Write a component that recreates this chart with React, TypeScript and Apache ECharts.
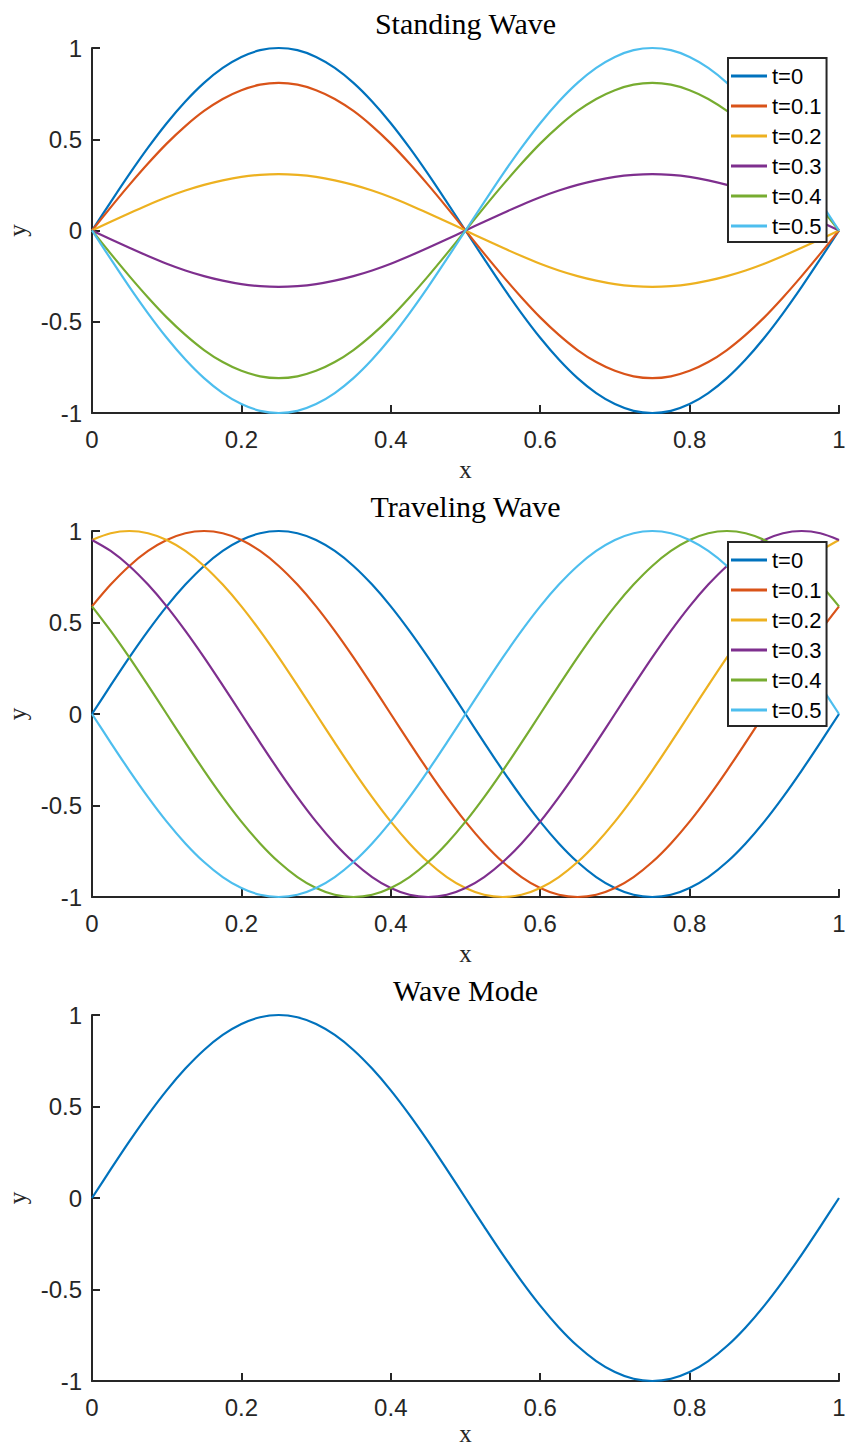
import React, { useEffect, useRef } from "react";
import * as echarts from "echarts";

const xs = [
  0, 0.025, 0.05, 0.075, 0.1, 0.125, 0.15, 0.175, 0.2, 0.225, 0.25, 0.275, 0.3, 0.325, 0.35, 0.375, 0.4, 0.425, 0.45, 0.475,
  0.5, 0.525, 0.55, 0.575, 0.6, 0.625, 0.65, 0.675, 0.7, 0.725, 0.75, 0.775, 0.8, 0.825, 0.85, 0.875, 0.9, 0.925, 0.95, 0.975, 1,
];
const seriesNames = ["t=0", "t=0.1", "t=0.2", "t=0.3", "t=0.4", "t=0.5"];
const colors = ["#0072BD", "#D95319", "#EDB120", "#7E2F8E", "#77AC30", "#4DBEEE"];
const titles = ["Standing Wave", "Traveling Wave", "Wave Mode"];
const xTicks = [0, 0.2, 0.4, 0.6, 0.8, 1];
const yTicks = [-1, -0.5, 0, 0.5, 1];

// Standing wave
const standT0 = [0, 0.156, 0.309, 0.454, 0.588, 0.707, 0.809, 0.891, 0.951, 0.988, 1, 0.988, 0.951, 0.891, 0.809, 0.707, 0.588, 0.454, 0.309, 0.156, 0, -0.156, -0.309, -0.454, -0.588, -0.707, -0.809, -0.891, -0.951, -0.988, -1, -0.988, -0.951, -0.891, -0.809, -0.707, -0.588, -0.454, -0.309, -0.156, 0];
const standT1 = [0, 0.127, 0.25, 0.367, 0.476, 0.572, 0.655, 0.721, 0.769, 0.799, 0.809, 0.799, 0.769, 0.721, 0.655, 0.572, 0.476, 0.367, 0.25, 0.127, 0, -0.127, -0.25, -0.367, -0.476, -0.572, -0.655, -0.721, -0.769, -0.799, -0.809, -0.799, -0.769, -0.721, -0.655, -0.572, -0.476, -0.367, -0.25, -0.127, 0];
const standT2 = [0, 0.048, 0.095, 0.14, 0.182, 0.219, 0.25, 0.275, 0.294, 0.305, 0.309, 0.305, 0.294, 0.275, 0.25, 0.219, 0.182, 0.14, 0.095, 0.048, 0, -0.048, -0.095, -0.14, -0.182, -0.219, -0.25, -0.275, -0.294, -0.305, -0.309, -0.305, -0.294, -0.275, -0.25, -0.219, -0.182, -0.14, -0.095, -0.048, 0];
const standT3 = [0, -0.048, -0.095, -0.14, -0.182, -0.219, -0.25, -0.275, -0.294, -0.305, -0.309, -0.305, -0.294, -0.275, -0.25, -0.219, -0.182, -0.14, -0.095, -0.048, 0, 0.048, 0.095, 0.14, 0.182, 0.219, 0.25, 0.275, 0.294, 0.305, 0.309, 0.305, 0.294, 0.275, 0.25, 0.219, 0.182, 0.14, 0.095, 0.048, 0];
const standT4 = [0, -0.127, -0.25, -0.367, -0.476, -0.572, -0.655, -0.721, -0.769, -0.799, -0.809, -0.799, -0.769, -0.721, -0.655, -0.572, -0.476, -0.367, -0.25, -0.127, 0, 0.127, 0.25, 0.367, 0.476, 0.572, 0.655, 0.721, 0.769, 0.799, 0.809, 0.799, 0.769, 0.721, 0.655, 0.572, 0.476, 0.367, 0.25, 0.127, 0];
const standT5 = [0, -0.156, -0.309, -0.454, -0.588, -0.707, -0.809, -0.891, -0.951, -0.988, -1, -0.988, -0.951, -0.891, -0.809, -0.707, -0.588, -0.454, -0.309, -0.156, 0, 0.156, 0.309, 0.454, 0.588, 0.707, 0.809, 0.891, 0.951, 0.988, 1, 0.988, 0.951, 0.891, 0.809, 0.707, 0.588, 0.454, 0.309, 0.156, 0];

// Traveling wave
const travT0 = [0, 0.156, 0.309, 0.454, 0.588, 0.707, 0.809, 0.891, 0.951, 0.988, 1, 0.988, 0.951, 0.891, 0.809, 0.707, 0.588, 0.454, 0.309, 0.156, 0, -0.156, -0.309, -0.454, -0.588, -0.707, -0.809, -0.891, -0.951, -0.988, -1, -0.988, -0.951, -0.891, -0.809, -0.707, -0.588, -0.454, -0.309, -0.156, 0];
const travT1 = [0.588, 0.707, 0.809, 0.891, 0.951, 0.988, 1, 0.988, 0.951, 0.891, 0.809, 0.707, 0.588, 0.454, 0.309, 0.156, 0, -0.156, -0.309, -0.454, -0.588, -0.707, -0.809, -0.891, -0.951, -0.988, -1, -0.988, -0.951, -0.891, -0.809, -0.707, -0.588, -0.454, -0.309, -0.156, 0, 0.156, 0.309, 0.454, 0.588];
const travT2 = [0.951, 0.988, 1, 0.988, 0.951, 0.891, 0.809, 0.707, 0.588, 0.454, 0.309, 0.156, 0, -0.156, -0.309, -0.454, -0.588, -0.707, -0.809, -0.891, -0.951, -0.988, -1, -0.988, -0.951, -0.891, -0.809, -0.707, -0.588, -0.454, -0.309, -0.156, 0, 0.156, 0.309, 0.454, 0.588, 0.707, 0.809, 0.891, 0.951];
const travT3 = [0.951, 0.891, 0.809, 0.707, 0.588, 0.454, 0.309, 0.156, 0, -0.156, -0.309, -0.454, -0.588, -0.707, -0.809, -0.891, -0.951, -0.988, -1, -0.988, -0.951, -0.891, -0.809, -0.707, -0.588, -0.454, -0.309, -0.156, 0, 0.156, 0.309, 0.454, 0.588, 0.707, 0.809, 0.891, 0.951, 0.988, 1, 0.988, 0.951];
const travT4 = [0.588, 0.454, 0.309, 0.156, 0, -0.156, -0.309, -0.454, -0.588, -0.707, -0.809, -0.891, -0.951, -0.988, -1, -0.988, -0.951, -0.891, -0.809, -0.707, -0.588, -0.454, -0.309, -0.156, 0, 0.156, 0.309, 0.454, 0.588, 0.707, 0.809, 0.891, 0.951, 0.988, 1, 0.988, 0.951, 0.891, 0.809, 0.707, 0.588];
const travT5 = [0, -0.156, -0.309, -0.454, -0.588, -0.707, -0.809, -0.891, -0.951, -0.988, -1, -0.988, -0.951, -0.891, -0.809, -0.707, -0.588, -0.454, -0.309, -0.156, 0, 0.156, 0.309, 0.454, 0.588, 0.707, 0.809, 0.891, 0.951, 0.988, 1, 0.988, 0.951, 0.891, 0.809, 0.707, 0.588, 0.454, 0.309, 0.156, 0];

// Wave mode
const modeValues = [0, 0.156, 0.309, 0.454, 0.588, 0.707, 0.809, 0.891, 0.951, 0.988, 1, 0.988, 0.951, 0.891, 0.809, 0.707, 0.588, 0.454, 0.309, 0.156, 0, -0.156, -0.309, -0.454, -0.588, -0.707, -0.809, -0.891, -0.951, -0.988, -1, -0.988, -0.951, -0.891, -0.809, -0.707, -0.588, -0.454, -0.309, -0.156, 0];

const standing = [standT0, standT1, standT2, standT3, standT4, standT5];
const traveling = [travT0, travT1, travT2, travT3, travT4, travT5];

const AXIS = "#262626";
const SANS = "Liberation Sans, Arial, sans-serif";
const SERIF = "Liberation Serif, Times New Roman, serif";

const GRIDS = [
  { top: 48, height: 365, xNameGap: 46 },
  { top: 531, height: 366, xNameGap: 46 },
  { top: 1015, height: 366, xNameGap: 42 },
];
const LEFT = 92;
const WIDTH = 747;

export default function App() {
  const ref = useRef<HTMLDivElement>(null);
  useEffect(() => {
    if (!ref.current) return;
    const chart = echarts.init(ref.current, null, { renderer: "svg" });

    const grid = GRIDS.map((g) => ({
      left: LEFT,
      top: g.top,
      width: WIDTH,
      height: g.height,
      containLabel: false,
      outerBoundsMode: "none",
    }));

    const xAxis = GRIDS.map((g, i) => ({
      type: "value",
      gridIndex: i,
      min: xTicks[0],
      max: xTicks[xTicks.length - 1],
      interval: 0.2,
      name: "x",
      nameLocation: "middle",
      nameGap: g.xNameGap,
      nameTextStyle: { fontFamily: SERIF, fontSize: 25, color: AXIS, lineHeight: 20 },
      axisLine: { show: true, onZero: false, lineStyle: { color: AXIS, width: 2 } },
      axisTick: { show: true, inside: true, length: 8, lineStyle: { color: AXIS, width: 2 } },
      axisLabel: { fontFamily: SANS, fontSize: 24, color: AXIS, margin: 14 },
      splitLine: { show: false },
    }));

    const yAxis = GRIDS.map((_, i) => ({
      type: "value",
      gridIndex: i,
      min: yTicks[0],
      max: yTicks[yTicks.length - 1],
      interval: 0.5,
      name: "y",
      nameLocation: "middle",
      nameGap: 62,
      nameRotate: 90,
      nameTextStyle: { fontFamily: SERIF, fontSize: 25, color: AXIS },
      axisLine: { show: true, onZero: false, lineStyle: { color: AXIS, width: 2 } },
      axisTick: { show: true, inside: true, length: 8, lineStyle: { color: AXIS, width: 2 } },
      axisLabel: { fontFamily: SANS, fontSize: 24, color: AXIS, margin: 10 },
      splitLine: { show: false },
    }));

    const mk = (name: string, vals: number[], color: string, gi: number) => ({
      type: "line",
      name,
      xAxisIndex: gi,
      yAxisIndex: gi,
      data: xs.map((x, k) => [x, vals[k]]),
      smooth: 0.3,
      showSymbol: false,
      symbol: "none",
      clip: false,
      lineStyle: { color, width: 2.2, join: "round" },
      itemStyle: { color },
    });

    const series: any[] = [];
    standing.forEach((v, i) => series.push(mk(seriesNames[i], v, colors[i], 0)));
    traveling.forEach((v, i) => series.push(mk(seriesNames[i], v, colors[i], 1)));
    series.push({ ...mk("mode", modeValues, colors[0], 2) });

    const legendBase = {
      orient: "vertical",
      left: 728,
      data: seriesNames,
      icon: "rect",
      itemWidth: 36,
      itemHeight: 3,
      itemGap: 6,
      padding: [6, 5, 4, 3],
      borderColor: AXIS,
      borderWidth: 2,
      borderRadius: 0,
      backgroundColor: "#ffffff",
      selectedMode: false,
      textStyle: { fontFamily: SANS, fontSize: 22, color: "#000", lineHeight: 24 },
    };

    chart.setOption({
      animation: false,
      backgroundColor: "#ffffff",
      grid,
      xAxis,
      yAxis,
      series,
      legend: [
        { ...legendBase, top: 58 },
        { ...legendBase, top: 542 },
      ],
      graphic: GRIDS.map((g, i) => ({
        type: "text",
        x: LEFT + WIDTH / 2,
        y: g.top - 25,
        style: {
          text: titles[i],
          textAlign: "center",
          textVerticalAlign: "middle",
          font: `30px ${SERIF}`,
          fill: "#000",
        },
      })),
    });
    return () => chart.dispose();
  }, []);
  return (
    <div
      ref={ref}
      style={{ position: "absolute", left: 0, top: 0, width: 846, height: 1450, background: "#fff" }}
    />
  );
}
